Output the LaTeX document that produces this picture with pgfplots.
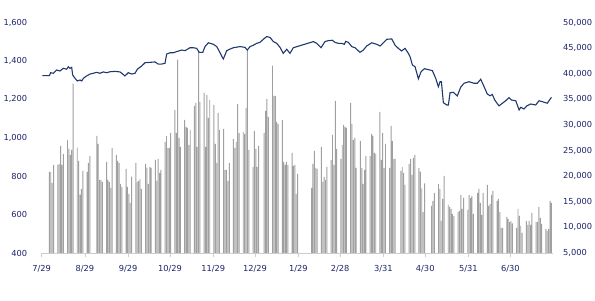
\documentclass[border=0pt]{standalone}
\usepackage{pgfplots}
\pgfplotsset{compat=1.18}
\usepackage{fontspec}
\setmainfont{DejaVu Sans}
\definecolor{navy}{RGB}{31,56,110}
\definecolor{lblc}{RGB}{28,36,105}
\definecolor{bargray}{RGB}{160,160,160}
\definecolor{axgray}{RGB}{205,205,205}
\begin{document}
\begin{tikzpicture}
\useasboundingbox (-41.7bp,-48bp) rectangle (553.3bp,253bp);
\pgfplotsset{
  common/.style={
    scale only axis, width=511bp, height=230.4bp,
    at={(0,0)}, anchor=south west,
    xmin=-0.5, xmax=365.9,
    scaled y ticks=false,
    ticklabel style={font=\fontsize{8.3}{10}\selectfont, text=lblc},
    /pgf/number format/.cd, 1000 sep={,}, assume math mode=true,
  }
}
% bars: trading value, right axis
\begin{axis}[common,
  hide x axis,
  axis y line*=right,
  y axis line style={draw=none},
  ytick style={draw=none},
  ymin=5000, ymax=50000,
  ytick={5000,10000,...,50000},
  yticklabel style={xshift=7bp},
]
\addplot[ybar, bar width=0.68, bar shift=0pt, fill=bargray, draw=none] coordinates {
(5,20844) (6,20844) (7,18692) (8,22213)
(11,22213) (12,22343) (13,25930) (14,22213) (15,24365)
(18,27103) (19,25408) (20,24169) (21,25147) (22,38057)
(25,25603) (26,22995) (27,16410) (28,17519) (29,21039)
(32,20844) (33,22604) (34,23973)
(39,27886) (40,26321) (41,19279) (42,19279) (43,18888)
(46,22800) (47,19279) (48,18888) (49,17714) (50,25538)
(53,24169) (54,22995) (55,22604) (56,18497) (57,17910)
(60,21430) (61,17910) (62,16541) (63,14780) (64,19931)
(67,22604) (68,18888) (69,19083) (70,19475) (71,17519)
(74,22409) (75,21626) (76,18497) (77,21822) (78,21626)
(81,23191) (82,19083) (83,23387) (84,20648) (85,21235)
(88,26712) (89,27886) (90,25538) (91,25538) (92,28472)
(95,32971) (96,28472) (97,42751) (98,27494) (99,25734)
(102,31015) (103,29646) (104,29450) (105,26125) (106,29059)
(109,33754) (110,34340) (111,25734) (112,44256) (113,34536)
(116,36296) (117,25734) (118,35905) (119,31406) (120,34927)
(123,33949) (124,26321) (125,22604) (126,32384) (127,29059)
(130,29255) (131,21235) (132,21235) (133,19083) (134,22604)
(137,27299) (138,25538) (139,26712) (140,34145) (141,28407)
(144,28668) (145,28277) (146,33363) (147,44700) (148,25147)
(151,21822) (152,28863) (153,25343) (154,21822) (155,25930)
(159,28472) (160,32776) (161,35123) (162,31602)
(165,41578) (166,35710) (167,35710) (168,30624) (169,30233)
(172,31015) (173,22800) (174,22213) (175,22800) (176,22213)
(179,24560) (180,22017) (181,22213) (182,16541) (183,20453)
(193,17714) (194,22409) (195,24952) (196,21626) (197,21430)
(200,25734) (201,18888) (202,19866) (203,19279) (204,21822)
(207,23191) (208,28082) (209,22213) (210,34731) (211,25343)
(214,23387) (215,26125) (216,30037) (217,29646) (218,29450)
(221,34340) (222,30233) (223,27103) (224,27494) (225,21626)
(228,26907) (229,21626) (230,18497) (231,21235) (232,23973)
(235,23973) (236,28277) (237,27886) (238,24560) (239,24365)
(242,32580) (243,23191) (244,28472) (245,21626) (246,26321)
(249,21626) (250,29842) (251,26907) (252,23387) (253,23387)
(257,21039) (258,21822) (259,20648) (260,18301)
(263,22409) (264,23387) (265,20257) (266,23582) (267,24169)
(270,21600) (271,20900) (272,17600) (273,13000) (274,18600)
(279,14193) (280,15171) (281,16736)
(284,18497) (285,17519) (286,11259) (287,15563) (288,20061)
(291,14389) (292,13998) (293,13606) (294,12629) (295,12238)
(298,13020) (299,13215) (300,16345) (301,13606) (302,15758)
(305,13411) (306,16345) (307,15758) (308,16149) (309,12629)
(312,16736) (313,17519) (314,14780) (315,12433) (316,16736)
(319,18301) (320,14193) (321,14585) (322,16345) (323,17127)
(326,15171) (327,15563) (328,13020) (329,9890) (330,9890)
(333,12042) (334,11651) (335,11064) (336,11259) (337,10803)
(340,9890) (341,13606) (342,12238) (343,10281) (344,8912)
(347,11259) (348,10477) (349,11259) (350,10477) (351,12824)
(354,11064) (355,11064) (356,13998) (357,11846) (358,10673)
(361,9695) (362,9303) (363,9695) (364,15171) (365,14780)
};
\end{axis}
% line: index, left axis
\begin{axis}[common,
  axis x line*=bottom,
  axis y line*=left,
  y axis line style={draw=none},
  ytick style={draw=none},
  x axis line style={axgray, line width=0.8bp},
  xtick style={axgray, line width=0.8bp},
  tick align=outside,
  major tick length=4bp,
  ymin=400, ymax=1600,
  ytick={400,600,...,1600},
  yticklabel style={xshift=-7bp},
  xtick={-0.5,30.5,61.5,91.5,122.5,152.5,183.5,213.5,244.5,274.5,305.5,335.5},
  xticklabels={7/29,8/29,9/29,10/29,11/29,12/29,1/29,2/28,3/31,4/30,5/31,6/30},
  xticklabel style={yshift=-5bp},
]
\addplot[navy, line width=1.1bp, mark=none] coordinates {
(0,1323.5) (5.0,1323.5) (5.9,1339) (7.8,1336) (10.2,1353) (12.6,1348) (15.0,1362) (17.4,1357) (18.6,1370) (19.8,1362) (21.0,1367) (21.7,1327) (23.4,1310) (25.0,1296) (27.0,1301) (28.2,1296) (29.4,1310) (31.7,1322) (34.1,1332) (36.5,1336) (38.9,1341) (41.3,1336) (43.7,1343) (46.1,1339) (48.5,1344) (52.1,1346) (55.6,1343) (57.6,1332) (59.2,1322) (61.6,1339) (64.0,1332) (66.4,1336) (68.1,1357) (71.2,1374) (73.6,1391) (77.2,1393) (80.7,1395) (83.1,1384) (85.5,1384) (87.9,1388) (89.1,1436) (91.5,1443) (93.9,1443) (96.3,1449) (99.9,1457) (102.3,1454) (105.8,1469) (108.2,1469) (110.6,1466) (112.5,1445) (115.0,1445) (116.6,1475) (119.0,1495) (122.6,1487) (125.0,1475) (127.4,1443) (129.7,1410) (132.2,1454) (134.5,1462) (136.9,1469) (141.7,1475) (145.3,1471) (146.9,1457) (148.9,1475) (151.2,1482) (153.7,1492) (156.0,1497) (158.4,1513) (160.8,1527) (163.2,1523) (165.6,1501) (168.0,1492) (170.4,1471) (172.7,1440) (175.2,1461) (177.5,1440) (179.9,1469) (183.0,1476) (194.3,1501) (196.7,1492) (199.8,1469) (202.6,1501) (205.0,1506) (207.9,1508) (209.8,1497) (212.2,1492) (214.6,1492) (216.5,1487) (217.5,1502) (219.4,1497) (221.8,1475) (224.2,1469) (227.7,1445) (230.1,1457) (232.5,1478) (236.1,1495) (239.7,1487) (242.1,1478) (244.5,1495) (246.9,1513) (250.5,1515) (252.8,1483) (255.2,1466) (257.6,1452) (260.0,1466) (262.4,1440) (263.6,1423) (265.3,1379) (267.2,1370) (269.6,1307) (271.5,1344) (273.9,1360) (279.6,1350) (282.0,1310) (283.9,1266) (285.1,1292) (286.1,1292) (287.5,1183) (289.9,1171) (291.1,1171) (292.3,1235) (294.6,1237) (297.5,1218) (299.9,1263) (302.3,1284) (305.9,1292) (309.5,1284) (311.8,1284) (314.3,1305) (316.7,1266) (319.0,1228) (321.0,1219) (322.6,1226) (324.3,1197) (327.4,1166) (329.8,1180) (332.2,1193) (334.6,1209) (336.2,1197) (339.4,1193) (341.8,1145) (343.0,1159) (345.3,1150) (347.3,1166) (350.1,1176) (353.7,1171) (356.1,1193) (358.5,1188) (362.0,1180) (364.5,1206) (365.0,1211)
};
\end{axis}
\end{tikzpicture}
\end{document}
